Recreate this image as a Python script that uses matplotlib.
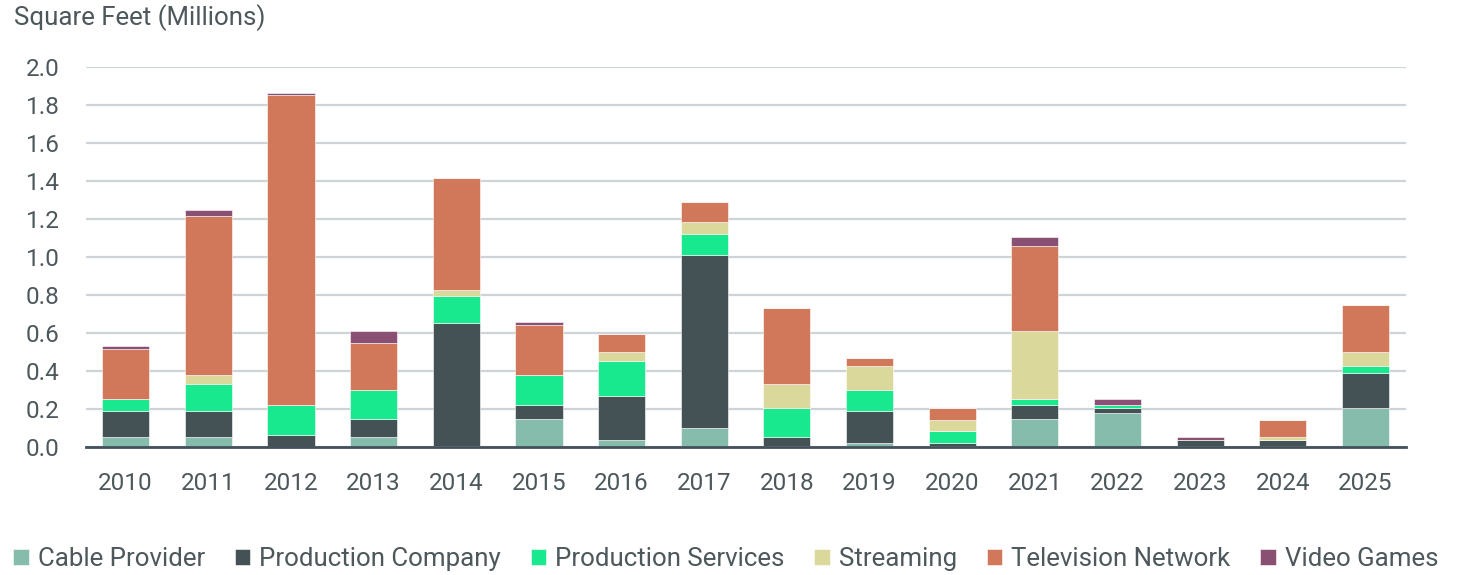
import numpy as np
import matplotlib.pyplot as plt

years = ["2010", "2011", "2012", "2013", "2014", "2015", "2016", "2017",
         "2018", "2019", "2020", "2021", "2022", "2023", "2024", "2025"]

cable_provider = [0.053, 0.053, 0.0, 0.053, 0.005, 0.145, 0.037, 0.098,
                  0.004, 0.021, 0.003, 0.145, 0.177, 0.003, 0.004, 0.207]
production_company = [0.138, 0.137, 0.065, 0.092, 0.650, 0.074, 0.229, 0.914,
                      0.047, 0.170, 0.016, 0.076, 0.028, 0.032, 0.031, 0.185]
production_services = [0.062, 0.139, 0.156, 0.156, 0.140, 0.159, 0.189, 0.109,
                       0.154, 0.107, 0.063, 0.031, 0.016, 0.0, 0.0, 0.032]
streaming = [0.0, 0.049, 0.0, 0.0, 0.032, 0.0, 0.046, 0.063,
             0.126, 0.126, 0.062, 0.356, 0.0, 0.0, 0.016, 0.077]
television_network = [0.265, 0.837, 1.630, 0.247, 0.588, 0.265, 0.093, 0.108,
                      0.403, 0.045, 0.063, 0.452, 0.0, 0.0, 0.093, 0.247]
video_games = [0.015, 0.030, 0.014, 0.060, 0.0, 0.014, 0.0, 0.0,
               0.0, 0.0, 0.0, 0.045, 0.033, 0.018, 0.0, 0.0]

series = [
    ("Cable Provider", cable_provider, "#85bcac"),
    ("Production Company", production_company, "#445256"),
    ("Production Services", production_services, "#18e88e"),
    ("Streaming", streaming, "#dbd89c"),
    ("Television Network", television_network, "#d1785a"),
    ("Video Games", video_games, "#8a5073"),
]

plt.rcParams["font.family"] = ["Roboto", "DejaVu Sans"]
text_color = "#4d585c"

fig = plt.figure(figsize=(14.72, 5.75), dpi=100)
ax = fig.add_axes([86 / 1472, 128 / 575, 1320 / 1472, 380 / 575])

x = np.arange(len(years))
bottom = np.zeros(len(years))
for name, vals, color in series:
    vals = np.array(vals)
    ax.bar(x, vals, width=0.57, bottom=bottom, color=color, label=name,
           edgecolor="white", linewidth=0.4, zorder=3)
    bottom += vals

ax.set_xlim(-0.48, 15.49)
ax.set_ylim(0, 2.0)
ax.set_yticks(np.arange(0, 2.01, 0.2))
ax.set_yticklabels([f"{v:.1f}" for v in np.arange(0, 2.01, 0.2)])
ax.set_xticks(x)
ax.set_xticklabels(years)
ax.tick_params(axis="both", length=0, labelsize=17.5, colors=text_color)
ax.tick_params(axis="x", pad=18)
ax.tick_params(axis="y", pad=19)
ax.grid(axis="y", color="#cdd3d6", linewidth=1.6, zorder=0)
for s in ["top", "right", "left"]:
    ax.spines[s].set_visible(False)
ax.spines["bottom"].set_color("#44515a")
ax.spines["bottom"].set_linewidth(2)
ax.spines["bottom"].set_zorder(4)

fig.text(14 / 1472, 1 - 18 / 575, "Square Feet (Millions)", fontsize=18.6,
         color=text_color, va="center", ha="left")

fig.legend(loc="center", bbox_to_anchor=(0.493, 0.028), ncol=6, frameon=False,
           fontsize=18.6, handlelength=0.6, handleheight=0.6, handletextpad=0.35,
           columnspacing=1.15, labelcolor=text_color, borderpad=0.2)

fig.savefig("out.png", dpi=100)
